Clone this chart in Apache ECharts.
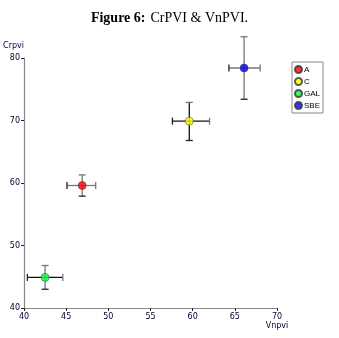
<!DOCTYPE html>
<html><head><meta charset="utf-8">
<script src="https://cdn.jsdelivr.net/npm/echarts@6/dist/echarts.min.js"></script>
<style>html,body{margin:0;padding:0;background:#fff}#c{width:339px;height:338px}</style>
</head><body><div id="c"></div>
<script>
var names = ['A', 'C', 'GAL', 'SBE'];
var colors = ['#ff0000', '#ffff00', '#00ff40', '#0000ff'];
var xVals = [46.9, 59.6, 42.5, 66.1];
var yVals = [59.6, 69.9, 44.9, 78.4];
var xLow = [45.1, 57.6, 40.4, 64.3];
var xHigh = [48.5, 62.0, 44.6, 68.0];
var yLow = [57.9, 66.8, 43.0, 73.4];
var yHigh = [61.3, 72.9, 46.8, 83.4];
var hBarColor = ['#777', '#111', '#111', '#777'];
var vBarColor = ['#777', '#111', '#777', '#777'];
var xTicks = [40, 45, 50, 55, 60, 65, 70];
var yTicks = [40, 50, 60, 70, 80];

var chart = echarts.init(document.getElementById('c'));
var errData = names.map(function (n, i) {
  return [xVals[i], yVals[i], xLow[i], xHigh[i], yLow[i], yHigh[i], i];
});
var series = [{
  type: 'custom',
  clip: false,
  silent: true,
  z: 1,
  renderItem: function (params, api) {
    var i = api.value(6);
    var l = api.coord([api.value(2), api.value(1)]);
    var r = api.coord([api.value(3), api.value(1)]);
    var b = api.coord([api.value(0), api.value(4)]);
    var t = api.coord([api.value(0), api.value(5)]);
    var cap = 3.5;
    var g = '#777';
    var mk = function (x1, y1, x2, y2, col) {
      return { type: 'line', shape: { x1: x1, y1: y1, x2: x2, y2: y2 }, style: { stroke: col, lineWidth: 1.3 } };
    };
    return { type: 'group', children: [
      mk(l[0], l[1], r[0], r[1], hBarColor[i]),
      mk(b[0], b[1], t[0], t[1], vBarColor[i]),
      mk(l[0], l[1] - cap, l[0], l[1] + cap, '#222'),
      mk(r[0], r[1] - cap, r[0], r[1] + cap, g),
      mk(t[0] - cap, t[1], t[0] + cap, t[1], g),
      mk(b[0] - cap, b[1], b[0] + cap, b[1], '#222')
    ] };
  },
  data: errData
}];
names.forEach(function (n, i) {
  series.push({
    type: 'scatter',
    name: n,
    symbol: 'circle',
    symbolSize: 8,
    z: 3,
    itemStyle: { color: colors[i], borderColor: '#333', borderWidth: 0.6 },
    data: [[xVals[i], yVals[i]]]
  });
});

var axisLabel = { fontFamily: 'DejaVu Sans', fontSize: 8, color: '#000033' };
chart.setOption({
  animation: false,
  title: {
    text: '{b|Figure 6:} {n|CrPVI & VnPVI.}',
    left: 'center',
    top: 4,
    textStyle: {
      fontWeight: 'normal',
      rich: {
        b: { fontFamily: 'Liberation Serif', fontWeight: 'bold', fontSize: 14, color: '#000' },
        n: { fontFamily: 'Liberation Serif', fontWeight: 'normal', fontSize: 14, color: '#000' }
      }
    }
  },
  grid: { left: 24, right: 62, top: 58, bottom: 30 },
  legend: {
    orient: 'vertical',
    left: 292,
    top: 62,
    padding: [3, 3, 3, 2],
    itemGap: 3,
    itemWidth: 7,
    itemHeight: 7,
    borderColor: '#888',
    borderWidth: 1,
    textStyle: { fontFamily: 'Liberation Sans', fontSize: 8, color: '#000', padding: [0, 0, 0, -3] },
    data: names.map(function (n) { return { name: n, icon: 'circle' }; })
  },
  xAxis: {
    type: 'value', min: 40, max: 70, interval: 5,
    name: 'Vnpvi', nameLocation: 'end', nameGap: 0,
    nameTextStyle: { fontFamily: 'DejaVu Sans', fontSize: 8, color: '#000033', align: 'center', verticalAlign: 'top', padding: [14, 0, 0, 0] },
    axisLine: { lineStyle: { color: '#888', width: 1.2 } },
    axisTick: { length: 3, lineStyle: { color: '#222' } },
    splitLine: { show: false },
    axisLabel: Object.assign({ margin: 5 }, axisLabel)
  },
  yAxis: {
    type: 'value', min: 40, max: 80, interval: 10,
    name: 'Crpvi', nameLocation: 'end', nameGap: 8,
    nameTextStyle: { fontFamily: 'DejaVu Sans', fontSize: 8, color: '#000033', align: 'right', padding: [0, 0, 0, 0] },
    axisLine: { show: true, lineStyle: { color: '#888', width: 1.2 } },
    axisTick: { show: true, length: 3, lineStyle: { color: '#222' } },
    splitLine: { show: false },
    axisLabel: Object.assign({ margin: 4 }, axisLabel)
  },
  series: series
});
</script>
</body></html>
